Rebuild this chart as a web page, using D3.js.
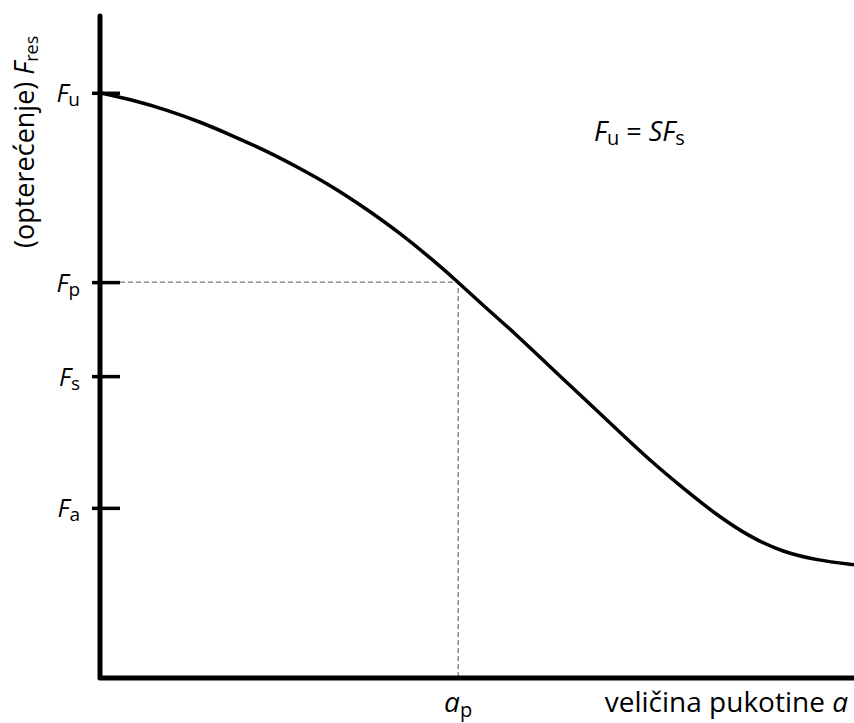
<!DOCTYPE html>
<html>
<head>
<meta charset="utf-8">
<script src="https://cdn.jsdelivr.net/npm/d3@7"></script>
<style>
  body { margin: 0; background: #fff; }
  text { font-family: "Open Sans", "Noto Sans", sans-serif; fill: #000; }
</style>
</head>
<body>
<div id="chart"></div>
<script>
const width = 854;
const height = 723;

//crack size a (0..100) and residual strength F_res (0..100)
const crackSize = [0, 4.4, 8.9, 13.3, 17.6, 22.1, 26.5, 30.9, 35.4, 39.8, 44.2, 47.3, 50.8, 55.3, 59.7, 64.1, 68.6, 72.9, 77.3, 81.8, 86.2, 90.6, 95.1, 100];
const strength = [88.4, 87.3, 85.8, 84.0, 81.9, 79.6, 77.0, 74.2, 70.8, 67.2, 63.1, 60.0, 56.3, 51.8, 47.0, 42.3, 37.5, 32.9, 28.7, 24.6, 21.3, 19.0, 17.8, 17.1];

//tick marks on the load axis
const tickNames = ["u", "p", "s", "a"];
const tickValues = [88.4, 59.8, 45.6, 25.7];

//crack size at the permissible load
const apValue = 47.5;

const svg = d3.select("#chart")
  .append("svg")
  .attr("width", width)
  .attr("height", height);

const x = d3.scaleLinear().domain([0, 100]).range([100, 854]);
const y = d3.scaleLinear().domain([0, 100]).range([678, 16]);

//dashed guide lines for F_p and a_p
svg.append("path")
  .attr("d", d3.line()([[x(0) + 20, y(tickValues[1])], [x(apValue), y(tickValues[1])], [x(apValue), y(0)]]))
  .attr("fill", "none")
  .attr("stroke", "#555")
  .attr("stroke-width", 1)
  .attr("stroke-dasharray", "5,3");

//the curve (basis smooths out the reading noise)
const points = crackSize.map((d, i) => [d, strength[i]]);
svg.append("path")
  .datum(points)
  .attr("fill", "none")
  .attr("stroke", "#000")
  .attr("stroke-width", 3.5)
  .attr("d", d3.line().x((d) => x(d[0])).y((d) => y(d[1])).curve(d3.curveBasis));

//y axis ticks and labels
const yAxis = svg.append("g")
  .attr("transform", `translate(${x(0)},0)`)
  .call(d3.axisLeft(y).tickValues(tickValues).tickSizeInner(8).tickSizeOuter(0).tickPadding(12).tickFormat(""));

yAxis.select(".domain").remove();
yAxis.selectAll(".tick line")
  .attr("x1", -8)
  .attr("x2", 20)
  .attr("stroke", "#000")
  .attr("stroke-width", 3.5);

yAxis.selectAll(".tick text").each(function (d, i) {
  const t = d3.select(this)
    .attr("font-size", 25)
    .attr("dy", "0.36em")
    .attr("text-anchor", "end");
  t.append("tspan").attr("font-style", "italic").text("F");
  t.append("tspan").attr("font-size", 19).attr("dy", 4).text(tickNames[i]);
});

//the two axis lines with a rounded corner
svg.append("path")
  .attr("d", d3.line()([[x(0), y(100)], [x(0), y(0)], [x(100), y(0)]]))
  .attr("fill", "none")
  .attr("stroke", "#000")
  .attr("stroke-width", 5)
  .attr("stroke-linecap", "round")
  .attr("stroke-linejoin", "round");

//a_p label under the x axis
const apLabel = svg.append("text")
  .attr("x", x(apValue))
  .attr("y", 712)
  .attr("text-anchor", "middle")
  .attr("font-size", 28);
apLabel.append("tspan").attr("font-style", "italic").text("a");
apLabel.append("tspan").attr("font-size", 20).attr("dy", 5).text("p");

//x axis title
const xTitle = svg.append("text")
  .attr("x", 848)
  .attr("y", 712)
  .attr("text-anchor", "end")
  .attr("font-size", 28);
xTitle.append("tspan").text("veličina pukotine ");
xTitle.append("tspan").attr("font-style", "italic").text("a");

//y axis title
const yTitle = svg.append("text")
  .attr("transform", "translate(34,248) rotate(-90)")
  .attr("text-anchor", "start")
  .attr("font-size", 27);
yTitle.append("tspan").text("(opterećenje) ");
yTitle.append("tspan").attr("font-style", "italic").text("F");
yTitle.append("tspan").attr("font-size", 18).attr("dy", 4).text("res");

//F_u = S F_s note
const note = svg.append("text")
  .attr("x", 594)
  .attr("y", 141)
  .attr("font-size", 27);
note.append("tspan").attr("font-style", "italic").text("F");
note.append("tspan").attr("font-size", 20).attr("dy", 4).text("u");
note.append("tspan").attr("dy", -4).text(" = ");
note.append("tspan").attr("font-style", "italic").text("SF");
note.append("tspan").attr("font-size", 20).attr("dy", 4).text("s");
</script>
</body>
</html>
